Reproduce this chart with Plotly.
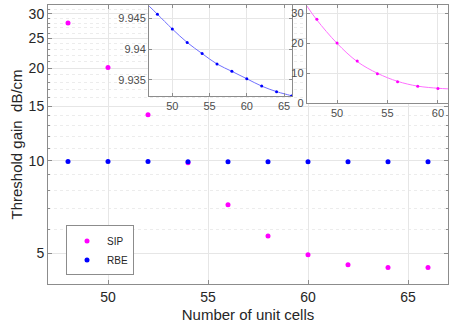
import plotly.graph_objects as go

# Hauptdaten
zellen = [48, 50, 52, 54, 56, 58, 60, 62, 64, 66]
sip = [28.0, 20.1, 14.1, 9.85, 7.2, 5.7, 4.95, 4.6, 4.5, 4.5]
rbe = [9.9457, 9.9433, 9.9411, 9.9393, 9.9376, 9.9364, 9.9352, 9.9340, 9.9331, 9.9324]

# Kurven in den Einschüben
rbe_kurve_x = [46.9, 48, 50, 52, 54, 56, 58, 60, 62, 64, 66, 66.1]
rbe_kurve_y = [9.9470, 9.9457, 9.9433, 9.9411, 9.9393, 9.9376, 9.9364, 9.9352, 9.9340, 9.9331, 9.9324, 9.9323]
sip_kurve_x = [47, 48, 50, 52, 54, 56, 58, 60, 61]
sip_kurve_y = [32.5, 27.8, 20.0, 13.9, 10.0, 7.3, 5.7, 5.0, 4.8]

y_ticks = [5, 10, 15, 20, 25, 30]
y_minor = [v for v in range(4, 33) if v not in y_ticks]
x_ticks = [50, 55, 60, 65]

magenta = "#ff00ff"
blau = "#0000ff"
achse = "#8c8c8c"
text = "#262626"
gitter = "#e6e6e6"

fig = go.Figure()
fig.add_trace(go.Scatter(x=zellen, y=sip, mode="markers", name="SIP",
                         marker=dict(color=magenta, size=5)))
fig.add_trace(go.Scatter(x=zellen, y=rbe, mode="markers", name="RBE",
                         marker=dict(color=blau, size=5)))

# Einschub 1: RBE
fig.add_trace(go.Scatter(x=rbe_kurve_x, y=rbe_kurve_y, mode="lines", showlegend=False,
                         line=dict(color="#7070ff", width=1, shape="spline"),
                         xaxis="x2", yaxis="y2"))
fig.add_trace(go.Scatter(x=zellen, y=rbe, mode="markers", showlegend=False,
                         marker=dict(color=blau, size=3), xaxis="x2", yaxis="y2"))
# Einschub 2: SIP
fig.add_trace(go.Scatter(x=sip_kurve_x, y=sip_kurve_y, mode="lines", showlegend=False,
                         line=dict(color="#ff70ff", width=1, shape="spline"),
                         xaxis="x3", yaxis="y3"))
fig.add_trace(go.Scatter(x=zellen, y=sip, mode="markers", showlegend=False,
                         marker=dict(color=magenta, size=3), xaxis="x3", yaxis="y3"))

inset_achse = dict(showline=True, linecolor=achse, mirror="ticks", ticks="inside",
                   ticklen=3, tickcolor=achse, showgrid=True, gridcolor=gitter,
                   tickfont=dict(size=11, color="#4d4d4d"), zeroline=False,
                   automargin=False)

fig.update_layout(
    width=470, height=327,
    margin=dict(l=48, r=22, t=5, b=43),
    paper_bgcolor="white", plot_bgcolor="white",
    font=dict(family="Liberation Sans, Arial, sans-serif", color=text),
    xaxis=dict(range=[47, 67], tickvals=x_ticks, showline=True, linecolor=achse,
               mirror="ticks", ticks="inside", ticklen=4, tickcolor=achse,
               showgrid=True, gridcolor=gitter, zeroline=False, automargin=False,
               tickfont=dict(size=14, color=text),
               title=dict(text="Number of unit cells", font=dict(size=15), standoff=5)),
    yaxis=dict(type="log", range=[0.6, 1.506], tickvals=y_ticks, showline=True,
               linecolor=achse, mirror="ticks", ticks="inside", ticklen=4,
               tickcolor=achse, showgrid=True, gridcolor=gitter, zeroline=False,
               automargin=False, tickfont=dict(size=14, color=text),
               minor=dict(tickvals=y_minor, ticks="inside", ticklen=2, tickcolor=achse,
                          showgrid=True, gridcolor="#ececec", griddash="dot"),
               title=dict(text="Threshold gain\u00a0\u00a0dB/cm", font=dict(size=15), standoff=2)),
    xaxis2=dict(domain=[0.2525, 0.61], anchor="y2", range=[46.87, 66.07],
                tickvals=x_ticks, **inset_achse),
    yaxis2=dict(domain=[0.674, 1], anchor="x2", range=[9.9324, 9.9472],
                tickvals=[9.935, 9.94, 9.945], **inset_achse),
    xaxis3=dict(domain=[0.647, 1], anchor="y3", range=[47, 61],
                tickvals=[50, 55, 60], **inset_achse),
    yaxis3=dict(domain=[0.648, 1], anchor="x3", range=[0, 32.8],
                tickvals=[0, 10, 20, 30], **inset_achse),
    legend=dict(x=0.045, y=0.21, xanchor="left", yanchor="top",
                bordercolor=achse, borderwidth=1, bgcolor="white",
                font=dict(size=10, color=text), itemwidth=30,
                tracegroupgap=0),
    showlegend=True,
)

# weißer Hintergrund für Einschübe
fig.add_shape(type="rect", xref="paper", yref="paper", x0=0.2525, x1=0.61, y0=0.674, y1=1,
              fillcolor="white", line=dict(width=0), layer="below")
fig.add_shape(type="rect", xref="paper", yref="paper", x0=0.647, x1=1, y0=0.648, y1=1,
              fillcolor="white", line=dict(width=0), layer="below")

# Browser-Standardrand der Seite entfernen
fig.write_html("out.html", config={"displayModeBar": False},
               post_script="document.body.style.margin='0';")
